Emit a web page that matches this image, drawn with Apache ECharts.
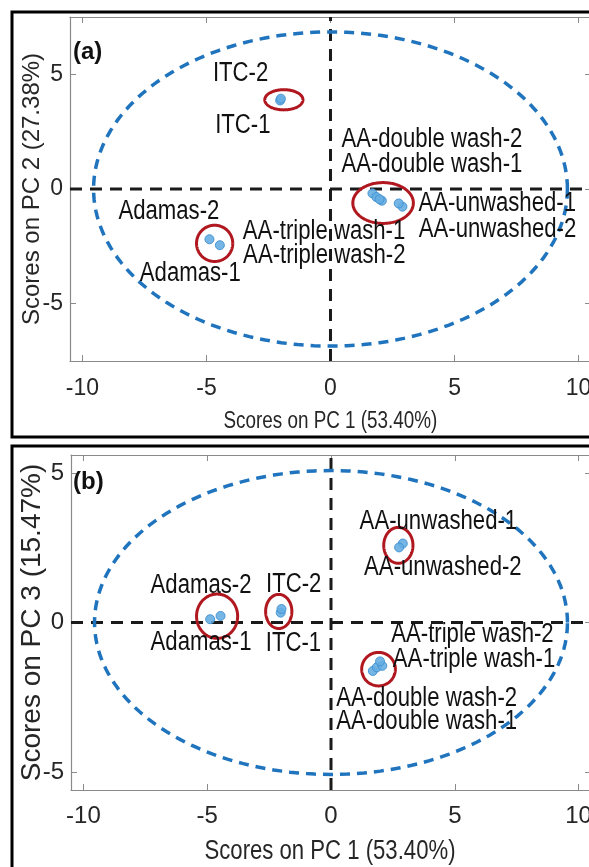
<!DOCTYPE html>
<html><head><meta charset="utf-8">
<script src="https://cdn.jsdelivr.net/npm/echarts@6/dist/echarts.min.js"></script>
<style>html,body{margin:0;padding:0;background:#fff}#c{width:589px;height:867px}</style>
</head><body><div id="c"></div>
<script>
// ---- data ----
const sampleNames = ['ITC-1','ITC-2','Adamas-1','Adamas-2','AA-double wash-1','AA-double wash-2','AA-triple wash-1','AA-triple wash-2','AA-unwashed-1','AA-unwashed-2'];
const pc1Scores = [-2.03, -2.00, -4.46, -4.88, 1.69, 1.85, 2.07, 1.98, 2.90, 2.75];
const pc2Scores = [3.86, 3.94, -2.45, -2.19, -0.19, -0.35, -0.51, -0.45, -0.77, -0.63];
const pc3Scores = [0.33, 0.45, 0.22, 0.11, -1.62, -1.50, -1.45, -1.30, 2.64, 2.51];
const xTicks = [-10, -5, 0, 5, 10];
const yTicksA = [-5, 0, 5];
const yTicksB = [-5, 0, 5];
const xTitle = 'Scores on PC 1 (53.40%)';
const yTitleA = 'Scores on PC 2 (27.38%)';
const yTitleB = 'Scores on PC 3 (15.47%)';
// group highlight ellipses [centre pc1, centre pc, radius pc1, radius pc]
const groupEllipsesA = [[-1.88, 3.89, 0.77, 0.44], [-4.67, -2.37, 0.73, 0.79], [2.12, -0.61, 1.22, 0.89]];
const groupEllipsesB = [[-4.60, 0.21, 0.83, 0.74], [-2.11, 0.37, 0.53, 0.57], [2.72, 2.58, 0.59, 0.60], [1.92, -1.56, 0.68, 0.56]];
// 95% confidence ellipse [centre x, centre y, semi-axis x, semi-axis y]
const confEllipseA = [0, 0, 9.55, 6.85];
const confEllipseB = [0, 0, 9.55, 5.08];

// ---- layout (pixel label offsets from each point) ----
const labelOffsetA = {
  'ITC-1':[-65,25.5],'ITC-2':[-68,-24.7],'Adamas-1':[-80,28],'Adamas-2':[-91,-28],
  'AA-double wash-1':[-31,-28.5],'AA-double wash-2':[-35,-57],
  'AA-triple wash-1':[-139,31],'AA-triple wash-2':[-136.5,56.5],
  'AA-unwashed-1':[16,-3.5],'AA-unwashed-2':[20,26.5]
};
const labelOffsetB = {
  'ITC-1':[-15,30.5],'ITC-2':[-15.5,-24],'Adamas-1':[-70,27],'Adamas-2':[-59.6,-34],
  'AA-double wash-1':[-36.7,51],'AA-double wash-2':[-40.6,30.7],
  'AA-triple wash-1':[10.6,-6.8],'AA-triple wash-2':[11.2,-27.3],
  'AA-unwashed-1':[-43.2,-21.5],'AA-unwashed-2':[-35,20.6]
};

const regular = "'Liberation Sans',Arial,sans-serif";
const narrowScale = 0.82;
const axisGray = '#8a8a8a';
const textCol = '#262626';

function ellipseSeries(list, gi, style, z) {
  return {
    type: 'custom', xAxisIndex: gi*2, yAxisIndex: gi*2, z: z, silent: true,
    data: list,
    encode: {x: 0, y: 1},
    renderItem: function (params, api) {
      const cx = api.value(0), cy = api.value(1), rx = api.value(2), ry = api.value(3);
      const pts = [];
      for (let k = 0; k <= 180; k++) {
        const t = k / 180 * Math.PI * 2;
        pts.push(api.coord([cx + rx * Math.cos(t), cy + ry * Math.sin(t)]));
      }
      return {type: 'polyline', shape: {points: pts}, style: Object.assign({fill: null}, style)};
    }
  };
}

function axesFor(gi, ymin, ymax, yTicks, tickFont, nameFontY, yName, yGap, lblMargin) {
  const common = {
    type: 'value', gridIndex: gi,
    axisLine: {show: true, onZero: false, lineStyle: {color: axisGray, width: 1.2}},
    splitLine: {show: false}
  };
  const xs = [
    Object.assign({}, common, {
      min: -10.5, max: 10.5, position: 'bottom',
      axisTick: {show: true, inside: true, length: 6, customValues: xTicks, lineStyle: {color: axisGray}},
      axisLabel: {show: true, customValues: xTicks, margin: lblMargin, color: textCol, fontFamily: regular, fontSize: tickFont}
    }),
    Object.assign({}, common, {
      min: -10.5, max: 10.5, position: 'top',
      axisTick: {show: true, inside: true, length: 6, customValues: xTicks, lineStyle: {color: axisGray}},
      axisLabel: {show: false}
    })
  ];
  const ys = [
    Object.assign({}, common, {
      min: ymin, max: ymax, position: 'left',
      axisTick: {show: true, inside: true, length: 6, customValues: yTicks, lineStyle: {color: axisGray}},
      axisLabel: {show: true, customValues: yTicks, margin: 7, color: textCol, fontFamily: regular, fontSize: tickFont},
      name: yName, nameLocation: 'middle', nameGap: yGap, nameMoveOverlap: false,
      nameTextStyle: {color: textCol, fontFamily: regular, fontSize: nameFontY}
    }),
    Object.assign({}, common, {
      min: ymin, max: ymax, position: 'right',
      axisTick: {show: true, inside: true, length: 6, customValues: yTicks, lineStyle: {color: axisGray}},
      axisLabel: {show: false}
    })
  ];
  return {xs, ys};
}

const axA = axesFor(0, -7.5, 7.5, yTicksA, 23, 24, yTitleA, 26, 16);
const axB = axesFor(1, -5.6, 5.6, yTicksB, 24, 28, yTitleB, 25, 14);

function zeroLines(gi, ymin, ymax) {
  const ls = {color: '#1a1a1a', width: 3, type: [12, 8]};
  return [
    {type: 'line', xAxisIndex: gi*2, yAxisIndex: gi*2, data: [[-10.5, 0], [10.5, 0]], symbol: 'none', lineStyle: ls, z: 2, silent: true},
    {type: 'line', xAxisIndex: gi*2, yAxisIndex: gi*2, data: [[0, ymin], [0, ymax]], symbol: 'none', lineStyle: ls, z: 2, silent: true}
  ];
}

function scatterFor(gi, ys) {
  return {
    type: 'scatter', xAxisIndex: gi*2, yAxisIndex: gi*2, z: 5,
    symbol: 'circle', symbolSize: 9,
    itemStyle: {color: '#66aee2', borderColor: '#3f8fd0', borderWidth: 1, opacity: 0.9},
    data: sampleNames.map((n, i) => ({name: n, value: [pc1Scores[i], ys[i]]}))
  };
}

function labelSeries(gi, ys, offsets, fs) {
  return {
    type: 'custom', xAxisIndex: gi*2, yAxisIndex: gi*2, z: 6, silent: true,
    data: sampleNames.map((n, i) => [pc1Scores[i], ys[i], i]),
    encode: {x: 0, y: 1},
    renderItem: function (params, api) {
      const p = api.coord([api.value(0), api.value(1)]);
      const n = sampleNames[api.value(2)];
      const off = offsets[n];
      return {type: 'text', x: p[0] + off[0], y: p[1] + off[1], scaleX: narrowScale,
        style: {text: n, font: fs + 'px ' + regular, fill: '#111', align: 'left', verticalAlign: 'middle'}};
    }
  };
}

const redStyle = {stroke: '#b0171f', lineWidth: 3};
const blueStyle = {stroke: '#1f74bd', lineWidth: 3.5, lineDash: [10, 7]};

const option = {
  animation: false,
  backgroundColor: '#fff',
  grid: [
    {left: 70, top: 17, width: 521, height: 344, outerBoundsMode: 'none', containLabel: false},
    {left: 71, top: 455, width: 520, height: 335, outerBoundsMode: 'none', containLabel: false}
  ],
  xAxis: axA.xs.concat(axB.xs),
  yAxis: axA.ys.concat(axB.ys),
  graphic: [
    {type: 'rect', shape: {x: 12, y: 12, width: 600, height: 425}, style: {fill: null, stroke: '#000', lineWidth: 3}, z: 100},
    {type: 'rect', shape: {x: 12, y: 446, width: 600, height: 440}, style: {fill: null, stroke: '#000', lineWidth: 3}, z: 100},
    {type: 'text', x: 73, y: 52, style: {text: '(a)', font: 'bold 24px ' + regular, fill: '#111', verticalAlign: 'middle'}, z: 100},
    {type: 'text', x: 73, y: 482, style: {text: '(b)', font: 'bold 24px ' + regular, fill: '#111', verticalAlign: 'middle'}, z: 100},
    {type: 'text', x: 330.4, y: 421.5, scaleX: narrowScale, style: {text: xTitle, font: '23px ' + regular, fill: textCol, align: 'center', verticalAlign: 'middle'}, z: 100},
    {type: 'text', x: 330, y: 852, scaleX: narrowScale, style: {text: xTitle, font: '27px ' + regular, fill: textCol, align: 'center', verticalAlign: 'middle'}, z: 100}
  ],
  series: [].concat(
    zeroLines(0, -7.5, 7.5),
    zeroLines(1, -5.6, 5.6),
    [ellipseSeries([confEllipseA], 0, blueStyle, 3),
     ellipseSeries([confEllipseB], 1, blueStyle, 3),
     ellipseSeries(groupEllipsesA, 0, redStyle, 4),
     ellipseSeries(groupEllipsesB, 1, redStyle, 4),
     scatterFor(0, pc2Scores),
     scatterFor(1, pc3Scores),
     labelSeries(0, pc2Scores, labelOffsetA, 27),
     labelSeries(1, pc3Scores, labelOffsetB, 27)]
  )
};
const chart = echarts.init(document.getElementById('c'), null, {renderer: 'canvas'});
chart.setOption(option);
</script>
</body></html>
